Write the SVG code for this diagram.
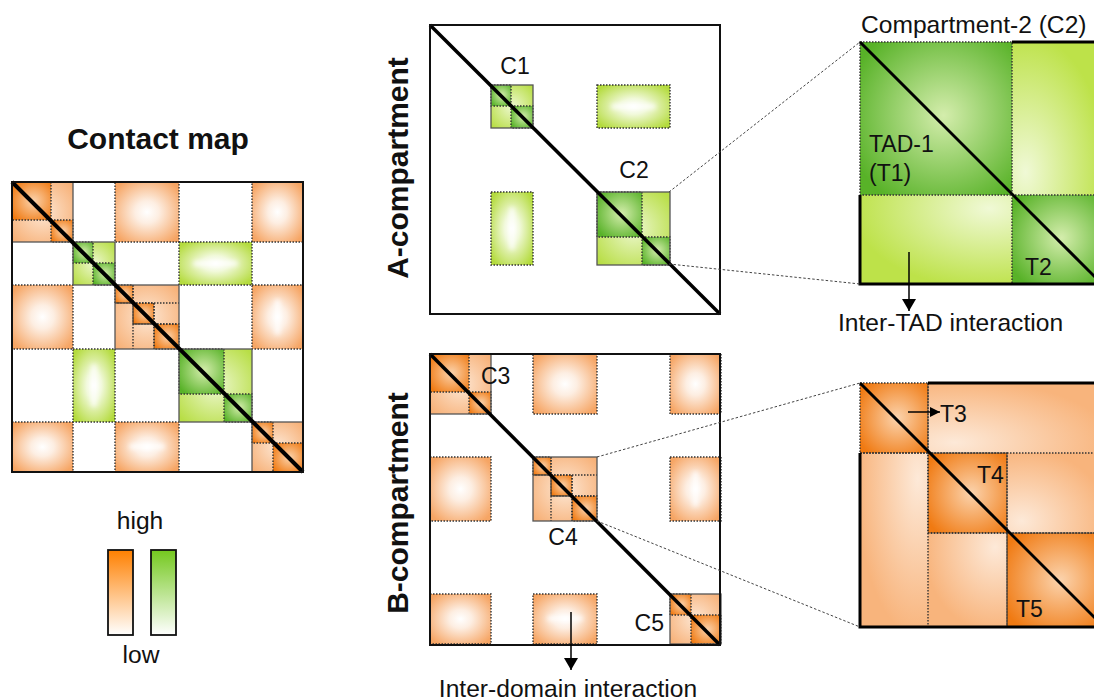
<svg xmlns="http://www.w3.org/2000/svg" width="1094" height="700" viewBox="0 0 1094 700">
<style>
  text{font-family:"Liberation Sans",Arial,sans-serif;fill:#111}
  .lbl{font-size:23px}
  .big{font-size:24.6px}
  .bold{font-weight:bold;font-size:30px}
  .d{stroke:#333;stroke-width:1.4;stroke-dasharray:1.5 1.5}
  .s{stroke:#555;stroke-width:1.3;fill:none}
  .diag{stroke:#000;stroke-linecap:butt;fill:none}
  .guide{stroke:#444;stroke-width:1;stroke-dasharray:2.5 2;fill:none}
  .thick{stroke:#000;stroke-width:3;fill:none}
  .box{stroke:#111;stroke-width:2;fill:none}
  .hl{fill:#fff;filter:url(#blur);opacity:0.9}
  .arr{stroke:#000;stroke-width:1.5;fill:none}
</style>
<defs>
  <filter id="blur" x="-1.5" y="-1.5" width="4" height="4"><feGaussianBlur stdDeviation="2.4"/></filter>
  <radialGradient id="gOffO" cx="50%" cy="50%" r="62%">
    <stop offset="0" stop-color="#ffffff"/>
    <stop offset="0.3" stop-color="#fdeee2"/>
    <stop offset="1" stop-color="#f6a564"/>
  </radialGradient>
  <radialGradient id="gOffG" cx="50%" cy="50%" r="62%">
    <stop offset="0" stop-color="#ffffff"/>
    <stop offset="0.3" stop-color="#f1f9da"/>
    <stop offset="1" stop-color="#b4db3e"/>
  </radialGradient>
  <radialGradient id="gDarkO" cx="55%" cy="50%" r="65%">
    <stop offset="0" stop-color="#fbd3ad"/>
    <stop offset="1" stop-color="#f07a12"/>
  </radialGradient>
  <radialGradient id="gLightO" cx="50%" cy="50%" r="65%">
    <stop offset="0" stop-color="#fde7d4"/>
    <stop offset="1" stop-color="#f7b178"/>
  </radialGradient>
  <radialGradient id="gDarkG" cx="55%" cy="48%" r="65%">
    <stop offset="0" stop-color="#d4edac"/>
    <stop offset="1" stop-color="#58b228"/>
  </radialGradient>
  <radialGradient id="gLightG" cx="50%" cy="50%" r="65%">
    <stop offset="0" stop-color="#edf8d0"/>
    <stop offset="1" stop-color="#b8de46"/>
  </radialGradient>
  <radialGradient id="gLightGur" cx="15%" cy="85%" r="90%">
    <stop offset="0" stop-color="#f0f9d6"/>
    <stop offset="1" stop-color="#bde249"/>
  </radialGradient>
  <radialGradient id="gLightGll" cx="85%" cy="15%" r="90%">
    <stop offset="0" stop-color="#f0f9d6"/>
    <stop offset="1" stop-color="#bde249"/>
  </radialGradient>
  <radialGradient id="gLightOur" cx="15%" cy="85%" r="90%">
    <stop offset="0" stop-color="#fde9d8"/>
    <stop offset="1" stop-color="#f8b47c"/>
  </radialGradient>
  <radialGradient id="gLightOll" cx="85%" cy="15%" r="90%">
    <stop offset="0" stop-color="#fde9d8"/>
    <stop offset="1" stop-color="#f8b47c"/>
  </radialGradient>
  <linearGradient id="legO" x1="0" y1="0" x2="0" y2="1">
    <stop offset="0" stop-color="#ff8000"/>
    <stop offset="1" stop-color="#ffffff"/>
  </linearGradient>
  <linearGradient id="legG" x1="0" y1="0" x2="0" y2="1">
    <stop offset="0" stop-color="#74c81e"/>
    <stop offset="1" stop-color="#ffffff"/>
  </linearGradient>
  <marker id="ah" markerUnits="userSpaceOnUse" viewBox="0 0 12 14" markerWidth="12" markerHeight="14" refX="12" refY="7" orient="auto">
    <path d="M0,0 L12,7 L0,14 z" fill="#000"/>
  </marker>
  <marker id="ahs" markerUnits="userSpaceOnUse" viewBox="0 0 10 10" markerWidth="10" markerHeight="10" refX="10" refY="5" orient="auto">
    <path d="M0,0 L10,5 L0,10 z" fill="#000"/>
  </marker>
  <g id="greenSet">
    <rect x="179" y="242" width="73" height="43" fill="url(#gOffG)" class="d"/>
    <rect x="193" y="261" width="45" height="5" rx="2.5" class="hl"/>
    <rect x="73" y="349" width="42" height="73" fill="url(#gOffG)" class="d"/>
    <rect x="91.5" y="364" width="5" height="43" rx="2.5" class="hl"/>
    <rect x="73" y="242" width="42" height="43" fill="url(#gLightG)"/>
    <rect x="73" y="242" width="20" height="21" fill="url(#gDarkG)" class="d"/>
    <rect x="93" y="263" width="22" height="22" fill="url(#gDarkG)" class="d"/>
    <rect x="73" y="242" width="42" height="43" class="s"/>
    <rect x="179" y="349" width="73" height="73" fill="url(#gLightG)"/>
    <rect x="179" y="349" width="45" height="45" fill="url(#gDarkG)" class="d"/>
    <rect x="224" y="394" width="28" height="28" fill="url(#gDarkG)" class="d"/>
    <rect x="179" y="349" width="73" height="73" class="s"/>
  </g>
  <g id="orangeSet">
    <rect x="115" y="182" width="64" height="60" fill="url(#gOffO)" class="d"/>
    <rect x="252" y="182" width="51" height="60" fill="url(#gOffO)" class="d"/>
    <rect x="12" y="285" width="61" height="64" fill="url(#gOffO)" class="d"/>
    <rect x="252" y="285" width="51" height="64" fill="url(#gOffO)" class="d"/>
    <rect x="275" y="299" width="5" height="36" rx="2.5" class="hl"/>
    <rect x="12" y="422" width="61" height="50" fill="url(#gOffO)" class="d"/>
    <rect x="115" y="422" width="64" height="50" fill="url(#gOffO)" class="d"/>
    <rect x="129" y="444" width="36" height="5" rx="2.5" class="hl"/>
    <rect x="12" y="182" width="61" height="60" fill="url(#gLightO)"/>
    <rect x="12" y="182" width="39" height="38" fill="url(#gDarkO)" class="d"/>
    <rect x="51" y="220" width="22" height="22" fill="url(#gDarkO)" class="d"/>
    <rect x="12" y="182" width="61" height="60" class="s"/>
    <rect x="115" y="285" width="64" height="64" fill="url(#gLightO)"/>
    <rect x="115" y="285" width="18" height="18" fill="url(#gDarkO)" class="d"/>
    <rect x="133" y="303" width="21" height="21" fill="url(#gDarkO)" class="d"/>
    <rect x="154" y="324" width="25" height="25" fill="url(#gDarkO)" class="d"/>
    <path d="M115,303H179M133,285V349M133,324H179M154,303V349" class="d" fill="none"/>
    <rect x="115" y="285" width="64" height="64" class="s"/>
    <rect x="252" y="422" width="51" height="50" fill="url(#gLightO)"/>
    <rect x="252" y="422" width="21" height="21" fill="url(#gDarkO)" class="d"/>
    <rect x="273" y="443" width="30" height="29" fill="url(#gDarkO)" class="d"/>
    <rect x="252" y="422" width="51" height="50" class="s"/>
  </g>
</defs>

<rect x="0" y="0" width="1094" height="700" fill="#ffffff"/>

<g id="contact-map">
  <text x="158" y="149" class="bold" text-anchor="middle">Contact map</text>
  <use href="#orangeSet"/>
  <use href="#greenSet"/>
  <line x1="12" y1="182" x2="303" y2="472" class="diag" stroke-width="4"/>
  <rect x="12" y="182" width="291" height="290" class="box"/>
</g>

<g id="legend">
  <text x="140" y="529" class="big" text-anchor="middle">high</text>
  <rect x="108" y="550" width="25" height="85" fill="url(#legO)" stroke="#111" stroke-width="1.8"/>
  <rect x="151" y="550" width="25" height="85" fill="url(#legG)" stroke="#111" stroke-width="1.8"/>
  <text x="141" y="663" class="big" text-anchor="middle">low</text>
</g>

<g id="a-compartment">
  <text transform="translate(408,168) rotate(-90)" class="bold" text-anchor="middle">A-compartment</text>
  <use href="#greenSet" transform="translate(418,-157)"/>
  <line x1="430" y1="25" x2="720" y2="314" class="diag" stroke-width="3.5"/>
  <rect x="430" y="25" width="290" height="289" class="box"/>
  <text x="515" y="74" class="lbl" text-anchor="middle">C1</text>
  <text x="634" y="178" class="lbl" text-anchor="middle">C2</text>
</g>

<g id="b-compartment">
  <text transform="translate(408,503) rotate(-90)" class="bold" text-anchor="middle">B-compartment</text>
  <use href="#orangeSet" transform="translate(418,172)"/>
  <line x1="430" y1="354" x2="720" y2="645" class="diag" stroke-width="3.5"/>
  <rect x="430" y="354" width="290" height="291" class="box"/>
  <text x="481" y="384" class="lbl">C3</text>
  <text x="563" y="545" class="lbl" text-anchor="middle">C4</text>
  <text x="664" y="631" class="lbl" text-anchor="end">C5</text>
</g>

<g id="zoom-c2">
  <text x="861" y="33" class="big">Compartment-2 (C2)</text>
  <rect x="1012" y="42" width="90" height="153" fill="url(#gLightGur)"/>
  <rect x="860" y="195" width="152" height="89" fill="url(#gLightGll)"/>
  <rect x="860" y="42" width="152" height="153" fill="url(#gDarkG)" class="d"/>
  <rect x="1012" y="195" width="90" height="89" fill="url(#gDarkG)" class="d"/>
  <path d="M1012,42H1102M860,195V284H1102" class="thick"/>
  <line x1="860" y1="42" x2="1102" y2="284" class="diag" stroke-width="3"/>
  <text x="869" y="152" class="lbl">TAD-1</text>
  <text x="869" y="181" class="lbl">(T1)</text>
  <text x="1025" y="275" class="lbl">T2</text>
  <text x="838" y="331" class="big">Inter-TAD interaction</text>
</g>

<g id="zoom-b">
  <rect x="928" y="383" width="176" height="70" fill="url(#gLightOur)"/>
  <rect x="860" y="453" width="68" height="174" fill="url(#gLightOll)"/>
  <rect x="1007" y="453" width="97" height="80" fill="url(#gLightOur)"/>
  <rect x="928" y="533" width="79" height="94" fill="url(#gLightOll)"/>
  <rect x="860" y="383" width="68" height="70" fill="url(#gDarkO)" class="d"/>
  <rect x="928" y="453" width="79" height="80" fill="url(#gDarkO)" class="d"/>
  <rect x="1007" y="533" width="97" height="94" fill="url(#gDarkO)" class="d"/>
  <path d="M860,453H1104M928,383V627M928,533H1104M1007,453V627" class="d" fill="none"/>
  <path d="M928,383H1104M860,453V627H1104" class="thick"/>
  <line x1="860" y1="383" x2="1104" y2="627" class="diag" stroke-width="3"/>
  <text x="940" y="422" class="lbl">T3</text>
  <text x="977" y="483" class="lbl">T4</text>
  <text x="1016" y="617" class="lbl">T5</text>
</g>

<text x="568" y="697" class="big" text-anchor="middle">Inter-domain interaction</text>

<g id="connectors">
  <line x1="669" y1="192" x2="860" y2="42" class="guide"/>
  <line x1="669" y1="264" x2="860" y2="284" class="guide"/>
  <line x1="597" y1="457" x2="860" y2="383" class="guide"/>
  <line x1="597" y1="521" x2="860" y2="627" class="guide"/>
  <line x1="909" y1="252" x2="909" y2="311" class="arr" marker-end="url(#ah)"/>
  <line x1="571" y1="612" x2="571" y2="670" class="arr" marker-end="url(#ah)"/>
  <line x1="908" y1="412" x2="940" y2="412" class="arr" marker-end="url(#ahs)"/>
</g>
</svg>
